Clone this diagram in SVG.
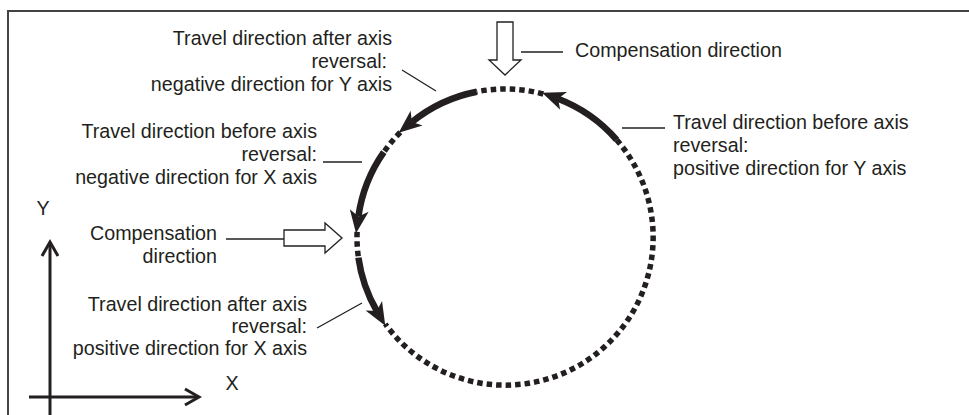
<svg xmlns="http://www.w3.org/2000/svg" width="969" height="415" viewBox="0 0 969 415">
<defs>
<style>
text{font-family:"Liberation Sans",Arial,sans-serif;font-size:19.7px;fill:#231f20}
.end{text-anchor:end}
.lead{stroke:#231f20;stroke-width:1.3;fill:none}
.solid{stroke:#231f20;stroke-width:6.5;fill:none}
.dot{stroke:#231f20;stroke-width:5.5;stroke-dasharray:5.5 4;fill:none}
.hollow{fill:#fff;stroke:#231f20;stroke-width:1.3;stroke-linejoin:miter}
.axis{stroke:#231f20;stroke-width:3;fill:none}
</style>
<marker id="ah" markerUnits="userSpaceOnUse" viewBox="0 0 23 19" refX="6" refY="9.5" markerWidth="23" markerHeight="19" orient="auto" overflow="visible">
<path d="M0,0 L23,9.5 L0,19 L6,9.5 Z" fill="#231f20"/>
</marker>
</defs>
<rect width="969" height="415" fill="#fff"/>
<path d="M8,415 V11 H969" fill="none" stroke="#444" stroke-width="2"/>

<g id="circle-path">
<path class="dot" d="M543.3,94.0 A148,148 0 0 0 476.8,91.7"/>
<path class="dot" d="M400.3,132.3 A148,148 0 0 0 383.8,152.1"/>
<path class="dot" d="M357.1,231.8 A148,148 0 0 0 358.4,257.6"/>
<path class="dot" d="M616.7,139.9 A148,148 0 1 1 385.3,324.0"/>
<path class="solid" marker-end="url(#ah)" d="M616.7,139.9 A148,148 0 0 0 558.0,98.8"/>
<path class="solid" marker-end="url(#ah)" d="M476.8,91.7 A148,148 0 0 0 411.9,122.0"/>
<path class="solid" marker-end="url(#ah)" d="M383.8,152.1 A148,148 0 0 0 358.4,216.4"/>
<path class="solid" marker-end="url(#ah)" d="M358.4,257.6 A148,148 0 0 0 376.8,311.0"/>
</g>

<g id="comp-top">
<polygon class="hollow" points="497,22 513,22 513,60 521,60 505,75 489,60 497,60"/>
<text x="575" y="57">Compensation direction</text>
</g>

<g id="comp-left">
<polygon class="hollow" points="284,230 325,230 325,223 342,238 325,253 325,246 284,246"/>
<text class="end" x="217" y="240">Compensation</text>
<text class="end" x="217" y="263">direction</text>
</g>

<g id="after-y">
<text class="end" x="392" y="45">Travel direction after axis</text>
<text class="end" x="387" y="68">reversal:</text>
<text class="end" x="392" y="91">negative direction for Y axis</text>
</g>

<g id="before-x">
<text class="end" x="317" y="138">Travel direction before axis</text>
<text class="end" x="317" y="161">reversal:</text>
<text class="end" x="317" y="184">negative direction for X axis</text>
</g>

<g id="after-x">
<text class="end" x="307" y="311">Travel direction after axis</text>
<text class="end" x="307" y="333">reversal:</text>
<text class="end" x="307" y="355">positive direction for X axis</text>
</g>

<g id="before-y">
<text x="673" y="129">Travel direction before axis</text>
<text x="673" y="152">reversal:</text>
<text x="673" y="175">positive direction for Y axis</text>
</g>

<g id="axes">
<path class="axis" d="M50,415 V242"/>
<path class="axis" d="M42,256 L50,242 L58,256"/>
<path class="axis" d="M29,397 H198"/>
<path class="axis" d="M185,389 L199,397 L185,405"/>
<text x="43" y="215" text-anchor="middle">Y</text>
<text x="232" y="390" text-anchor="middle">X</text>
</g>

<g id="connectors">
<line class="lead" x1="521" y1="52" x2="563" y2="52"/>
<line class="lead" x1="226" y1="239" x2="284" y2="239"/>
<line class="lead" x1="402" y1="70" x2="436" y2="91"/>
<line class="lead" x1="323" y1="162" x2="362" y2="162"/>
<line class="lead" x1="317" y1="328" x2="362" y2="303"/>
<line class="lead" x1="622" y1="128" x2="665" y2="128"/>
</g>
</svg>
